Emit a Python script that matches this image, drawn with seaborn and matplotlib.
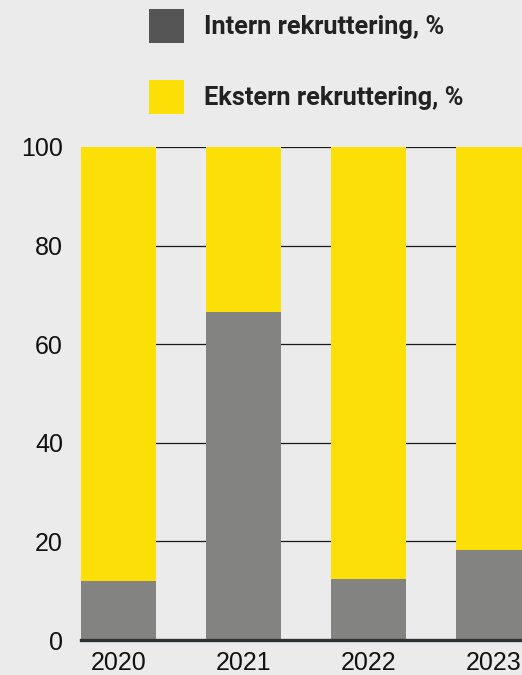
import matplotlib
matplotlib.use("Agg")
import matplotlib.pyplot as plt
from matplotlib.patches import Patch
import seaborn as sns
import pandas as pd

# data
years = ["2020", "2021", "2022", "2023"]
intern = [12.0, 66.5, 12.4, 18.3]
ekstern = [88.0, 33.5, 87.6, 81.7]

bg = "#ebebeb"
grey_bar = "#838381"
grey_legend = "#555555"
yellow = "#fcdf07"

df = pd.DataFrame({"year": years, "intern": intern, "ekstern": ekstern})
df["total"] = df["intern"] + df["ekstern"]

sns.set_theme(style="white")
plt.rcParams["font.family"] = ["Liberation Sans", "DejaVu Sans"]

fig = plt.figure(figsize=(5.22, 6.75), dpi=100, facecolor=bg)
ax = fig.add_axes([81 / 522, 35 / 675, 1 - 81 / 522, (640 - 147) / 675])
ax.set_facecolor(bg)

# stacked bars: total in yellow, internal share in grey on top
sns.barplot(data=df, x="year", y="total", color=yellow, width=0.6,
            saturation=1, linewidth=0, ax=ax, zorder=3)
sns.barplot(data=df, x="year", y="intern", color=grey_bar, width=0.6,
            saturation=1, linewidth=0, ax=ax, zorder=4)

ax.set_ylim(0, 100)
ax.set_xlim(-0.3, (522 - 81) / 125 - 0.3)
ax.set_yticks(range(0, 101, 20))
ax.set_xlabel("")
ax.set_ylabel("")
ax.yaxis.grid(True, color="#1a1a1a", linewidth=0.9, zorder=1)
ax.set_axisbelow(True)
ax.tick_params(axis="y", length=0, pad=13, labelsize=18, labelcolor="#111111")
ax.tick_params(axis="x", length=0, pad=8, labelsize=18, labelcolor="#111111")

for s in ["top", "right", "left"]:
    ax.spines[s].set_visible(False)
ax.spines["bottom"].set_color("#2e3133")
ax.spines["bottom"].set_linewidth(2.4)
ax.spines["bottom"].set_zorder(6)

handles = [Patch(facecolor=grey_legend, edgecolor="none"),
           Patch(facecolor=yellow, edgecolor="none")]
labels = ["Intern rekruttering, %", "Ekstern rekruttering, %"]
leg = fig.legend(handles, labels, loc="upper left",
                 bbox_to_anchor=(149 / 522, 1 - 9 / 675),
                 frameon=False, borderpad=0, borderaxespad=0,
                 handlelength=1.36, handleheight=1.68, handletextpad=0.8,
                 labelspacing=1.46,
                 prop={"family": ["Roboto", "DejaVu Sans"], "weight": "bold", "size": 18.3})
for t in leg.get_texts():
    t.set_color("#222222")

fig.savefig("out.png", dpi=100, facecolor=bg)
